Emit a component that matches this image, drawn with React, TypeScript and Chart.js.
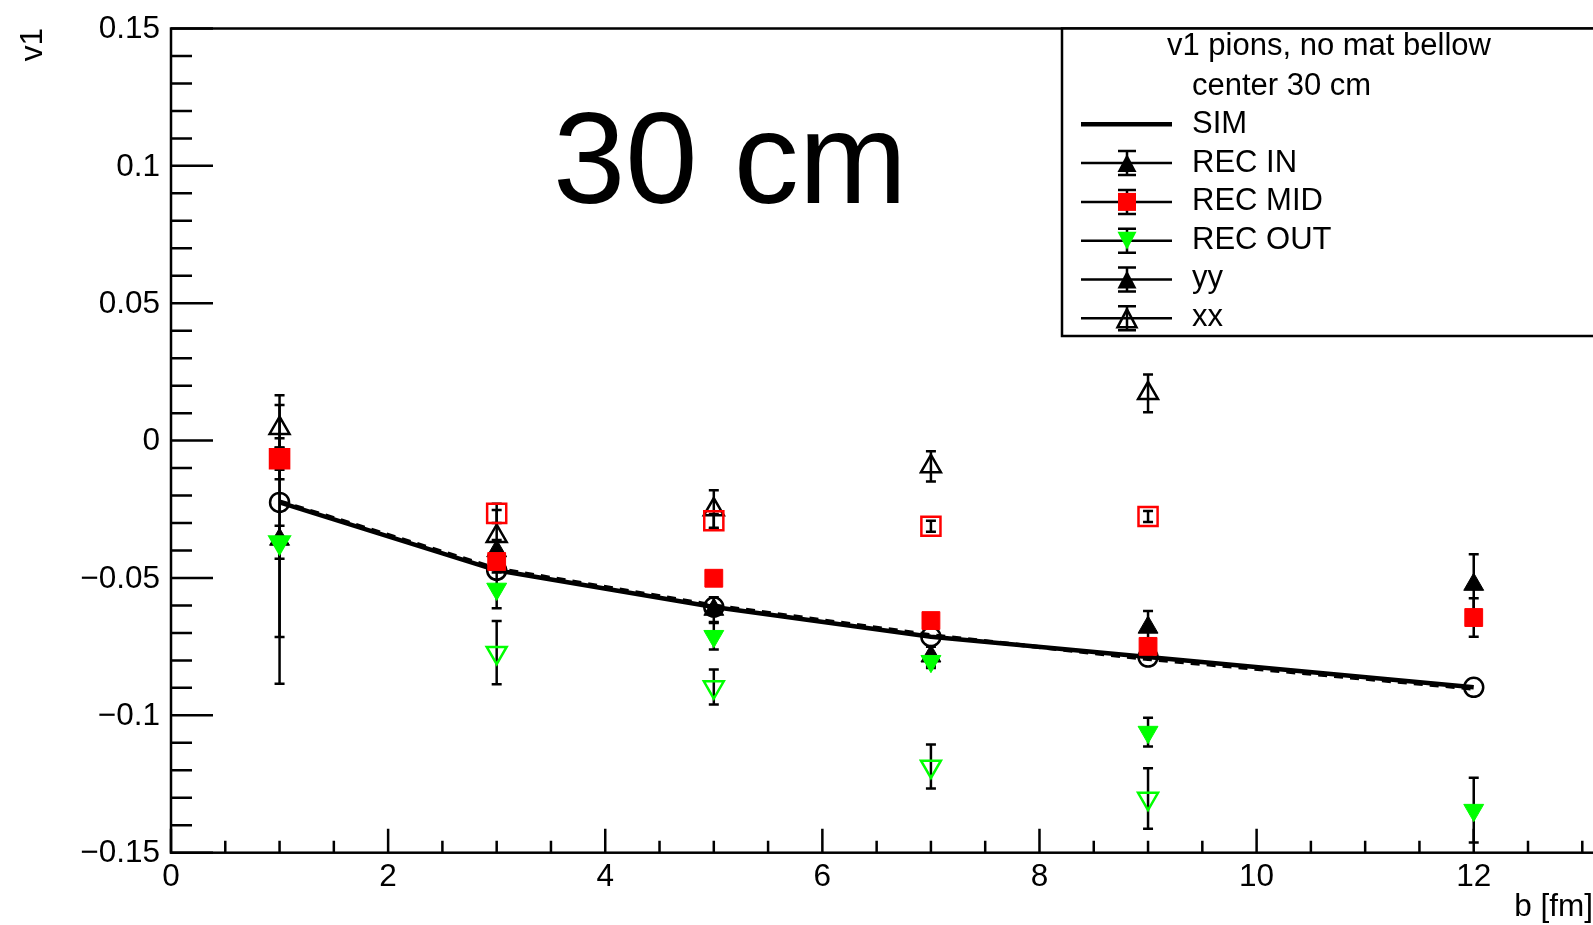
import { useEffect, useRef } from "react";
import { Chart, registerables } from "chart.js";

Chart.register(...registerables);

// Impact parameter b [fm]
const impactParams = [1, 3, 5, 7, 9, 12];
const impactParamsXX = [1, 3, 5, 7, 9];

// Simulated v1 (solid = yy, dashed = xx)
const simYY = [-0.0225, -0.0472, -0.0606, -0.0714, -0.0788, -0.0898];
const simXX = [-0.0221, -0.0466, -0.06, -0.0708, -0.0795, -0.0903];

// Reconstructed v1, inner region
const recInYY = [-0.036, -0.0402, -0.0615, -0.0785, -0.068, -0.0524];
const recInYYErr = [0.0525, 0.004, 0.0045, 0.0035, 0.006, 0.011];
const recInXX = [0.0045, -0.0348, -0.0251, -0.0094, 0.0172];
const recInXXErr = [0.0085, 0.0095, 0.007, 0.0055, 0.0069];

// Reconstructed v1, middle region
const recMidYY = [-0.0066, -0.044, -0.0501, -0.0655, -0.0749, -0.0644];
const recMidYYErr = [0.0075, 0.004, 0.0025, 0.0025, 0.003, 0.007];
const recMidXX = [-0.0066, -0.0265, -0.0292, -0.0312, -0.0276];
const recMidXXErr = [0.004, 0.0035, 0.0025, 0.002, 0.002];

// Reconstructed v1, outer region
const recOutYY = [-0.037, -0.054, -0.0712, -0.0803, -0.1061, -0.1345];
const recOutYYErr = [0.0345, 0.007, 0.0048, 0.0025, 0.0052, 0.0118];
const recOutXX = [-0.037, -0.0772, -0.0897, -0.1186, -0.1303];
const recOutXXErr = [0.006, 0.0115, 0.0064, 0.008, 0.011];

// Axis tick labels
const xTickValues = [0, 2, 4, 6, 8, 10, 12];
const xTickLabels = ["0", "2", "4", "6", "8", "10", "12"];
const yTickValues = [-0.15, -0.1, -0.05, 0, 0.05, 0.1, 0.15];
const yTickLabels = ["\u22120.15", "\u22120.1", "\u22120.05", "0", "0.05", "0.1", "0.15"];

const titleText = "30 cm";
const legendHeader = ["v1 pions, no mat bellow", "center 30 cm"];
const legendEntries = ["SIM", "REC IN", "REC MID", "REC OUT", "yy", "xx"];

const FONT = '"Liberation Sans", Arial, Helvetica, sans-serif';
const GREEN = "#00ff00";
const RED = "#ff0000";
const HOLLOW = "rgba(0,0,0,0)";

const pts = (xs: number[], ys: number[]) => xs.map((x, i) => ({ x, y: ys[i] }));

type MarkerKind = "triUp" | "triDown" | "square" | "none" | "line";

// Marker drawn in the legend, centred on its bounding box
function drawLegendMarker(
  ctx: CanvasRenderingContext2D,
  kind: MarkerKind,
  cx: number,
  cy: number,
  fill: string | null,
  stroke: string
) {
  ctx.save();
  ctx.lineWidth = 2.5;
  ctx.strokeStyle = stroke;
  ctx.lineJoin = "miter";
  ctx.beginPath();
  if (kind === "triUp") {
    ctx.moveTo(cx, cy - 9);
    ctx.lineTo(cx + 9.5, cy + 9);
    ctx.lineTo(cx - 9.5, cy + 9);
    ctx.closePath();
  } else if (kind === "triDown") {
    ctx.moveTo(cx, cy + 9);
    ctx.lineTo(cx + 9.5, cy - 9);
    ctx.lineTo(cx - 9.5, cy - 9);
    ctx.closePath();
  } else if (kind === "square") {
    ctx.rect(cx - 9, cy - 9, 18, 18);
  }
  if (fill) {
    ctx.fillStyle = fill;
    ctx.fill();
  } else {
    ctx.stroke();
  }
  ctx.restore();
}

const rootStylePlugin = {
  id: "rootStyle",
  beforeDatasetsDraw(chart: any) {
    const { ctx, chartArea } = chart;
    const xs = chart.scales.x;
    const ys = chart.scales.y;
    ctx.save();
    ctx.beginPath();
    ctx.rect(chartArea.left, chartArea.top, chartArea.right - chartArea.left, chartArea.bottom - chartArea.top);
    ctx.clip();
    ctx.strokeStyle = "#000";
    ctx.lineWidth = 2.5;
    chart.data.datasets.forEach((ds: any) => {
      const errs: number[] | undefined = ds.errors;
      if (!errs) return;
      ds.data.forEach((p: { x: number; y: number }, j: number) => {
        const e = errs[j];
        if (e == null) return;
        const px = xs.getPixelForValue(p.x);
        const top = ys.getPixelForValue(p.y + e);
        const bot = ys.getPixelForValue(p.y - e);
        ctx.beginPath();
        ctx.moveTo(px, top);
        ctx.lineTo(px, bot);
        ctx.moveTo(px - 5, top);
        ctx.lineTo(px + 5, top);
        ctx.moveTo(px - 5, bot);
        ctx.lineTo(px + 5, bot);
        ctx.stroke();
      });
    });
    ctx.restore();
  },
  afterDraw(chart: any) {
    const { ctx, chartArea } = chart;
    const xs = chart.scales.x;
    const ys = chart.scales.y;
    const { left, right, top, bottom } = chartArea;
    ctx.save();

    // frame
    ctx.strokeStyle = "#000";
    ctx.lineWidth = 2.5;
    ctx.strokeRect(left, top, right - left, bottom - top);

    // y ticks (inward)
    ctx.beginPath();
    for (let k = -15; k <= 15; k++) {
      const py = ys.getPixelForValue(k / 100);
      const len = k % 5 === 0 ? 42 : 21;
      ctx.moveTo(left, py);
      ctx.lineTo(left + len, py);
    }
    // x ticks (inward)
    for (let k = 0; k <= 26; k++) {
      const v = k * 0.5;
      const px = xs.getPixelForValue(v);
      const len = k % 4 === 0 ? 24 : 12;
      ctx.moveTo(px, bottom);
      ctx.lineTo(px, bottom - len);
    }
    ctx.stroke();

    // tick labels
    ctx.fillStyle = "#000";
    ctx.font = `31.5px ${FONT}`;
    ctx.textAlign = "right";
    ctx.textBaseline = "middle";
    yTickValues.forEach((v, i) => {
      ctx.fillText(yTickLabels[i], 160, ys.getPixelForValue(v) + 1);
    });
    ctx.textAlign = "center";
    xTickValues.forEach((v, i) => {
      ctx.fillText(xTickLabels[i], xs.getPixelForValue(v), 877);
    });

    // axis titles
    ctx.textAlign = "right";
    ctx.textBaseline = "alphabetic";
    ctx.fillText("b [fm]", 1593, 916);
    ctx.save();
    ctx.translate(42, 28);
    ctx.rotate(-Math.PI / 2);
    ctx.textAlign = "right";
    ctx.fillText("v1", 0, 0);
    ctx.restore();

    // big title
    ctx.font = `130px ${FONT}`;
    ctx.textAlign = "center";
    ctx.fillText(titleText, 730, 203);

    // legend box
    const lx = 1062;
    const ly = top;
    ctx.fillStyle = "#fff";
    ctx.fillRect(lx, ly, 700, 336 - ly);
    ctx.strokeStyle = "#000";
    ctx.lineWidth = 2.5;
    ctx.strokeRect(lx, ly, 700, 336 - ly);

    ctx.fillStyle = "#000";
    ctx.font = `31px ${FONT}`;
    ctx.textAlign = "left";
    ctx.fillText(legendHeader[0], 1167, 55);
    ctx.fillText(legendHeader[1], 1192, 95);

    const kinds: { kind: MarkerKind; fill: string | null; stroke: string }[] = [
      { kind: "line", fill: null, stroke: "#000" },
      { kind: "triUp", fill: "#000", stroke: "#000" },
      { kind: "square", fill: RED, stroke: RED },
      { kind: "triDown", fill: GREEN, stroke: GREEN },
      { kind: "triUp", fill: "#000", stroke: "#000" },
      { kind: "triUp", fill: null, stroke: "#000" },
    ];
    legendEntries.forEach((label, i) => {
      const cy = 124.3 + 38.8 * i;
      const k = kinds[i];
      ctx.strokeStyle = "#000";
      if (k.kind === "line") {
        ctx.lineWidth = 4.5;
        ctx.beginPath();
        ctx.moveTo(1081, cy);
        ctx.lineTo(1172, cy);
        ctx.stroke();
      } else {
        ctx.lineWidth = 2.5;
        ctx.beginPath();
        ctx.moveTo(1081, cy);
        ctx.lineTo(1172, cy);
        // error bar with caps
        ctx.moveTo(1127, cy - 12);
        ctx.lineTo(1127, cy + 12);
        ctx.moveTo(1118, cy - 12);
        ctx.lineTo(1136, cy - 12);
        ctx.moveTo(1118, cy + 12);
        ctx.lineTo(1136, cy + 12);
        ctx.stroke();
        drawLegendMarker(ctx, k.kind, 1127, cy, k.fill, k.stroke);
      }
      ctx.fillStyle = "#000";
      ctx.fillText(label, 1192, 133 + 38.6 * i);
    });

    ctx.restore();
  },
};

export default function App() {
  const canvasRef = useRef<HTMLCanvasElement | null>(null);

  useEffect(() => {
    document.documentElement.style.overflow = "hidden";
    document.body.style.overflow = "hidden";
    const canvas = canvasRef.current;
    if (!canvas) return;

    const openMarker = (color: string, style: string, rotation = 0, radius = 11.5) => ({
      showLine: false,
      pointStyle: style,
      pointRotation: rotation,
      pointRadius: radius,
      pointHoverRadius: radius,
      pointBackgroundColor: HOLLOW,
      pointBorderColor: color,
      pointBorderWidth: 2.5,
      borderColor: color,
      backgroundColor: HOLLOW,
    });
    const filledMarker = (color: string, style: string, rotation = 0, radius = 11.5) => ({
      showLine: false,
      pointStyle: style,
      pointRotation: rotation,
      pointRadius: radius,
      pointHoverRadius: radius,
      pointBackgroundColor: color,
      pointBorderColor: color,
      pointBorderWidth: 1,
      borderColor: color,
      backgroundColor: color,
    });

    const chart = new Chart(canvas, {
      type: "scatter",
      data: {
        datasets: [
          { label: "REC OUT xx", data: pts(impactParamsXX, recOutXX), errors: recOutXXErr, order: 1, ...openMarker(GREEN, "triangle", 180) },
          { label: "REC MID xx", data: pts(impactParamsXX, recMidXX), errors: recMidXXErr, order: 2, ...openMarker(RED, "rect", 0, 13.5) },
          { label: "REC IN xx", data: pts(impactParamsXX, recInXX), errors: recInXXErr, order: 3, ...openMarker("#000", "triangle") },
          { label: "REC MID", data: pts(impactParams, recMidYY), errors: recMidYYErr, order: 4, ...filledMarker(RED, "rect", 0, 12.6) },
          { label: "REC OUT", data: pts(impactParams, recOutYY), errors: recOutYYErr, order: 5, ...filledMarker(GREEN, "triangle", 180) },
          { label: "REC IN", data: pts(impactParams, recInYY), errors: recInYYErr, order: 6, ...filledMarker("#000", "triangle") },
          {
            label: "SIM",
            data: pts(impactParams, simYY),
            order: 7,
            showLine: true,
            borderColor: "#000",
            borderWidth: 4.5,
            tension: 0,
            pointStyle: "circle",
            pointRadius: 9.5,
            pointHoverRadius: 9.5,
            pointBackgroundColor: HOLLOW,
            pointBorderColor: "#000",
            pointBorderWidth: 2.5,
          },
          {
            label: "SIM xx",
            data: pts(impactParams, simXX),
            order: 8,
            showLine: true,
            borderColor: "#000",
            borderWidth: 4,
            borderDash: [9, 7],
            tension: 0,
            pointRadius: 0,
            pointHoverRadius: 0,
          },
        ] as any,
      },
      options: {
        animation: false,
        responsive: false,
        devicePixelRatio: 1,
        events: [],
        layout: { padding: { left: 171, top: 28.5, right: 14, bottom: 72.3 } },
        plugins: { legend: { display: false }, tooltip: { enabled: false }, title: { display: false } },
        scales: {
          x: { type: "linear", min: 0, max: 13.2, display: false },
          y: { type: "linear", min: -0.15, max: 0.15, display: false },
        },
      },
      plugins: [rootStylePlugin],
    });
    return () => chart.destroy();
  }, []);

  return (
    <div style={{ position: "fixed", left: 0, top: 0, width: 1620, height: 925, background: "#fff" }}>
      <canvas ref={canvasRef} width={1620} height={925} style={{ display: "block", width: 1620, height: 925 }} />
    </div>
  );
}
